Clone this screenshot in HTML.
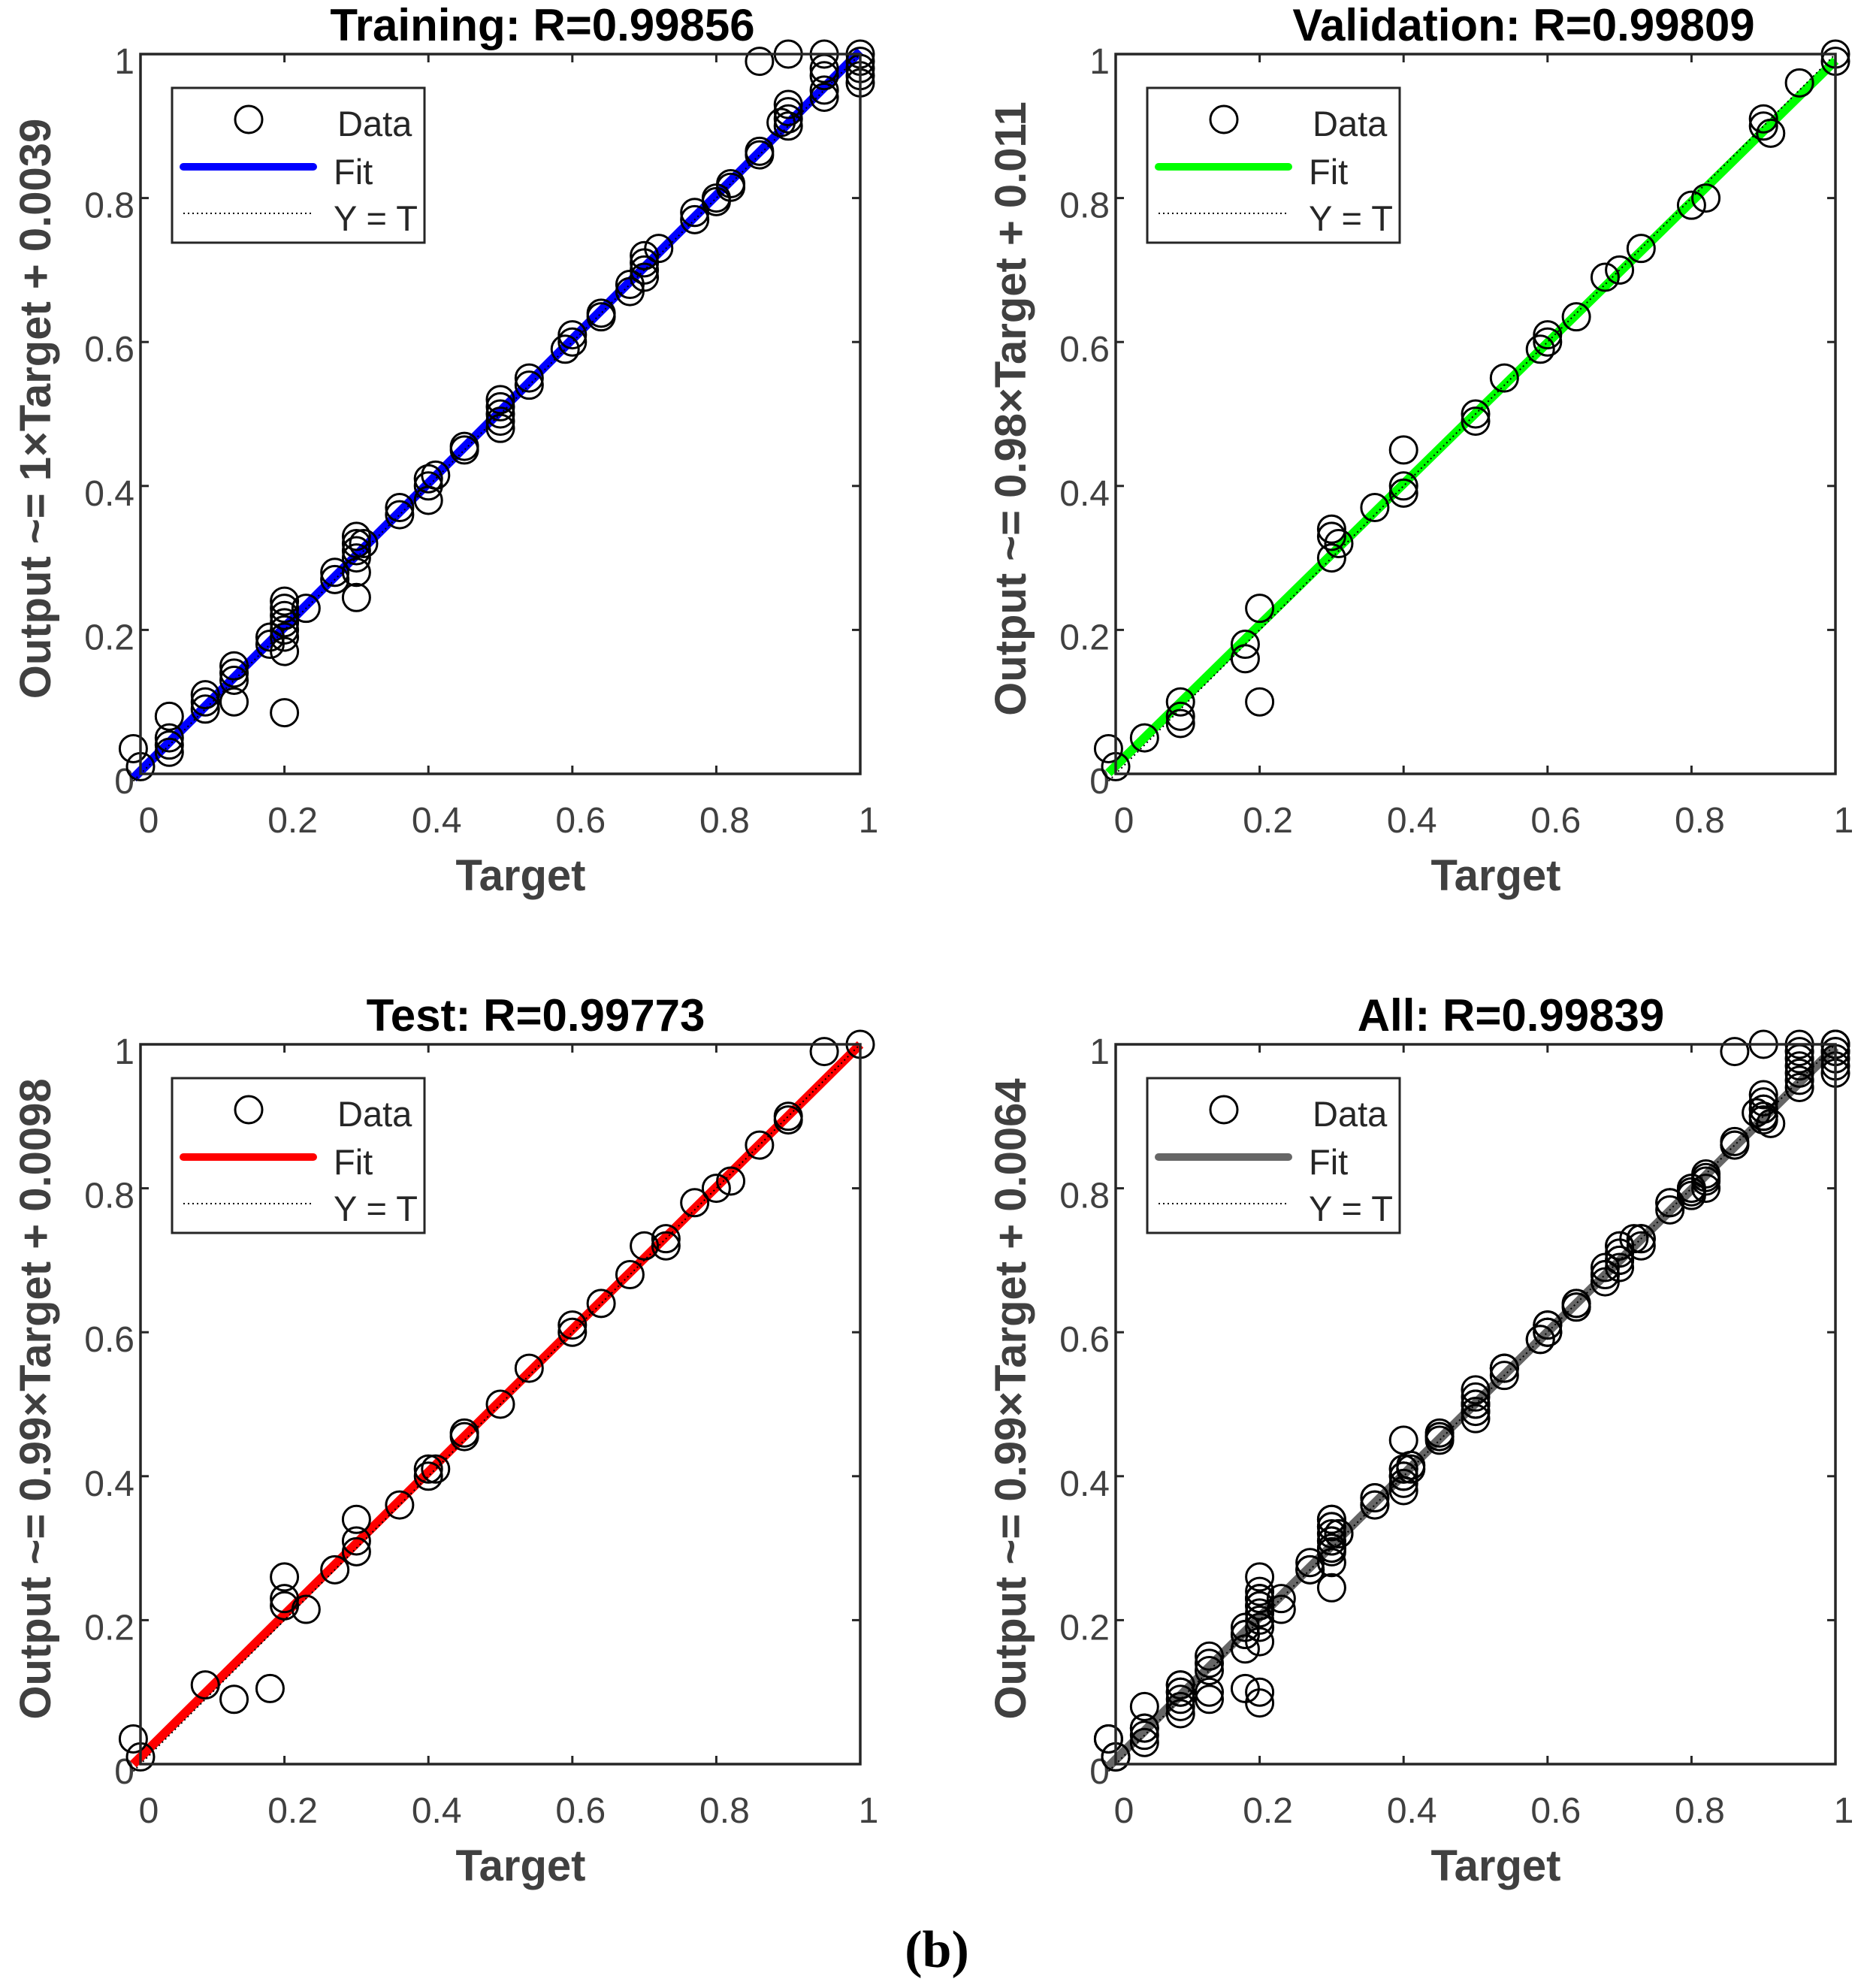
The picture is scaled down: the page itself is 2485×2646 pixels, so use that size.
<!DOCTYPE html>
<html><head><meta charset="utf-8"><style>
html,body{margin:0;padding:0;background:#fff;}
svg{display:block;}
</style></head><body>
<svg id="fig" width="2485" height="2646" viewBox="0 0 2485 2646" xmlns="http://www.w3.org/2000/svg">
<text x="1247" y="2618" text-anchor="middle" font-family="Liberation Serif, serif" font-weight="bold" font-size="70" fill="#000">(b)</text>
</svg>
<script>
const tickValues = [0, 0.2, 0.4, 0.6, 0.8, 1];
const tickLabels = ["0", "0.2", "0.4", "0.6", "0.8", "1"];
const trainTargets = [-0.01,0,0.04,0.04,0.04,0.04,0.09,0.09,0.09,0.13,0.13,0.13,0.13,0.18,0.18,0.2,0.2,0.2,0.2,0.2,0.2,0.2,0.2,0.23,0.27,0.27,0.3,0.3,0.3,0.3,0.3,0.3,0.31,0.36,0.36,0.4,0.4,0.4,0.41,0.45,0.45,0.5,0.5,0.5,0.5,0.5,0.54,0.54,0.59,0.6,0.6,0.64,0.64,0.68,0.68,0.7,0.7,0.7,0.7,0.72,0.77,0.77,0.8,0.8,0.82,0.82,0.86,0.86,0.86,0.9,0.9,0.9,0.9,0.9,0.89,0.95,0.95,0.95,0.95,0.95,1,1,1,1,1];
const trainOutputs = [0.035,0.01,0.08,0.05,0.03,0.04,0.11,0.1,0.09,0.15,0.14,0.13,0.1,0.19,0.18,0.24,0.23,0.22,0.21,0.2,0.19,0.17,0.085,0.23,0.28,0.27,0.33,0.32,0.31,0.3,0.28,0.245,0.32,0.37,0.36,0.41,0.4,0.38,0.415,0.455,0.45,0.52,0.51,0.5,0.49,0.48,0.55,0.54,0.59,0.61,0.6,0.64,0.635,0.68,0.67,0.72,0.71,0.7,0.69,0.73,0.78,0.77,0.8,0.795,0.815,0.82,0.86,0.865,0.99,1.0,0.93,0.92,0.91,0.9,0.905,1.0,0.98,0.97,0.95,0.94,1,0.99,0.98,0.97,0.96];
const valTargets = [-0.01,0,0.04,0.09,0.09,0.09,0.18,0.18,0.2,0.2,0.3,0.3,0.3,0.31,0.36,0.4,0.4,0.4,0.5,0.5,0.54,0.59,0.6,0.6,0.64,0.68,0.7,0.73,0.8,0.82,0.9,0.9,0.91,0.95,1,1];
const valOutputs = [0.035,0.01,0.05,0.1,0.08,0.07,0.18,0.16,0.23,0.1,0.34,0.33,0.3,0.32,0.37,0.45,0.4,0.39,0.5,0.49,0.55,0.59,0.6,0.61,0.635,0.69,0.7,0.73,0.79,0.8,0.91,0.9,0.89,0.96,1,0.99];
const testTargets = [-0.01,0,0.09,0.13,0.18,0.2,0.2,0.2,0.23,0.27,0.3,0.3,0.3,0.36,0.4,0.4,0.41,0.45,0.45,0.5,0.54,0.6,0.6,0.64,0.68,0.7,0.73,0.73,0.77,0.8,0.82,0.86,0.9,0.9,0.95,1];
const testOutputs = [0.035,0.01,0.11,0.09,0.105,0.26,0.23,0.22,0.215,0.27,0.34,0.31,0.295,0.36,0.41,0.4,0.41,0.46,0.455,0.5,0.55,0.61,0.6,0.64,0.68,0.72,0.73,0.72,0.78,0.8,0.81,0.86,0.9,0.895,0.99,1];
const allTargets = trainTargets.concat(valTargets, testTargets);
const allOutputs = trainOutputs.concat(valOutputs, testOutputs);
const fitSlopes = [1, 0.98, 0.99, 0.99];
const fitIntercepts = [0.0039, 0.011, 0.0098, 0.0064];
const panelTitles = ["Training: R=0.99856", "Validation: R=0.99809", "Test: R=0.99773", "All: R=0.99839"];
const yLabels = ["Output ~= 1×Target + 0.0039", "Output ~= 0.98×Target + 0.011", "Output ~= 0.99×Target + 0.0098", "Output ~= 0.99×Target + 0.0064"];

const NS = "http://www.w3.org/2000/svg";
const svg = document.getElementById("fig");
function mk(tag, attrs, parent) {
  const e = document.createElementNS(NS, tag);
  for (const k in attrs) e.setAttribute(k, attrs[k]);
  (parent || svg).appendChild(e);
  return e;
}
const panels = [
  {key:"training", x:187, y:72, color:"#0000ff", tx:722, xs:trainTargets, ys:trainOutputs},
  {key:"validation", x:1485, y:72, color:"#00ff00", tx:2028, xs:valTargets, ys:valOutputs},
  {key:"test", x:187, y:1390, color:"#ff0000", tx:713, xs:testTargets, ys:testOutputs},
  {key:"all", x:1485, y:1390, color:"#666666", tx:2011, xs:allTargets, ys:allOutputs}
];
const S = 958;
const FONT = "Liberation Sans, Arial, sans-serif";
panels.forEach((p, i) => {
  const g = mk("g", {});
  
  
  const sx = v => p.x + v * S;
  const sy = v => p.y + S - v * S;
  const t = mk("text", {x:p.tx, y:p.y-18, "text-anchor":"middle", "font-family":FONT, "font-weight":"bold", "font-size":"60", fill:"#000"}, g);
  t.textContent = panelTitles[i];
  
  
  tickValues.forEach((v, k) => {
    mk("line", {x1:sx(v), y1:p.y+S, x2:sx(v), y2:p.y+S-11, stroke:"#262626", "stroke-width":3}, g);
    mk("line", {x1:sx(v), y1:p.y, x2:sx(v), y2:p.y+11, stroke:"#262626", "stroke-width":3}, g);
    mk("line", {x1:p.x, y1:sy(v), x2:p.x+11, y2:sy(v), stroke:"#262626", "stroke-width":3}, g);
    mk("line", {x1:p.x+S, y1:sy(v), x2:p.x+S-11, y2:sy(v), stroke:"#262626", "stroke-width":3}, g);
    const xl = mk("text", {x:sx(v)+11, y:p.y+S+78, "text-anchor":"middle", "font-family":FONT, "font-size":"48", fill:"#404040"}, g);
    xl.textContent = tickLabels[k];
    
    
    const yl = mk("text", {x:p.x-8, y:sy(v)+26, "text-anchor":"end", "font-family":FONT, "font-size":"48", fill:"#404040"}, g);
    yl.textContent = tickLabels[k];
    
    
  });
  const xt = mk("text", {x:p.x+506, y:p.y+S+155, "text-anchor":"middle", "font-family":FONT, "font-weight":"bold", "font-size":"58", fill:"#404040"}, g);
  xt.textContent = "Target";
  
  
  const cx = p.x - 120, cy = p.y + 472;
  const yt = mk("text", {x:cx, y:cy, "text-anchor":"middle", "font-family":FONT, "font-weight":"bold", "font-size":"58", fill:"#404040", transform:`rotate(-90 ${cx} ${cy})`}, g);
  yt.textContent = yLabels[i];
  
  
  const xmin = Math.min(...p.xs), xmax = Math.max(...p.xs);
  const fl = mk("line", {x1:sx(xmin), y1:sy(fitSlopes[i]*xmin+fitIntercepts[i]), x2:sx(xmax), y2:sy(fitSlopes[i]*xmax+fitIntercepts[i]), stroke:p.color, "stroke-width":12}, g);
  
  
  const yeq = mk("line", {x1:sx(xmin), y1:sy(xmin), x2:sx(xmax), y2:sy(xmax), stroke:"#000", "stroke-width":2, "stroke-dasharray":"2 4"}, g);
  
  
  p.xs.forEach((xv, j) => {
    const c = mk("circle", {cx:sx(xv), cy:sy(p.ys[j]), r:18, fill:"none", stroke:"#000", "stroke-width":3}, g);
    
    
  });
  mk("rect", {x:p.x, y:p.y, width:S, height:S, fill:"none", stroke:"#262626", "stroke-width":3.5}, g);
  const lg = mk("g", {}, g);
  
  
  const lx = p.x + 42, ly = p.y + 45;
  mk("rect", {x:lx, y:ly, width:336, height:206, fill:"#fff", stroke:"#262626", "stroke-width":3}, lg);
  mk("circle", {cx:lx+102, cy:ly+42, r:18, fill:"none", stroke:"#000", "stroke-width":3}, lg);
  mk("line", {x1:lx+15, y1:ly+105, x2:lx+188, y2:ly+105, stroke:p.color, "stroke-width":10, "stroke-linecap":"round"}, lg);
  mk("line", {x1:lx+15, y1:ly+167, x2:lx+188, y2:ly+167, stroke:"#000", "stroke-width":2, "stroke-dasharray":"2 4"}, lg);
  [["Data",lx+220,ly+64],["Fit",lx+215,ly+128],["Y = T",lx+215,ly+190]].forEach(d => {
    const tt = mk("text", {x:d[1], y:d[2], "font-family":FONT, "font-size":"47", fill:"#262626"}, lg);
    tt.textContent = d[0];
    
    
  });
});
</script>
</body></html>
